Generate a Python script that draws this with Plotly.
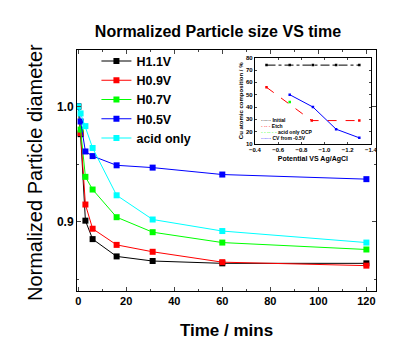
import plotly.graph_objects as go

# main chart data
time_min = [0, 1, 3, 6, 16, 31, 60, 120]
h11 = [1.0, 0.976, 0.901, 0.885, 0.870, 0.866, 0.864, 0.864]
h09 = [1.0, 0.977, 0.915, 0.894, 0.880, 0.874, 0.865, 0.862]
h07 = [1.0, 0.980, 0.939, 0.928, 0.904, 0.891, 0.882, 0.876]
h05 = [1.0, 0.987, 0.961, 0.957, 0.949, 0.947, 0.941, 0.937]
acid = [1.0, 0.994, 0.983, 0.964, 0.923, 0.902, 0.892, 0.882]
names = ["H1.1V", "H0.9V", "H0.7V", "H0.5V", "acid only"]
colors = ["#000000", "#ff0000", "#00ff00", "#0000ff", "#00ffff"]

# inset data
init_x = [-0.5, -0.7, -0.9, -1.1, -1.3]
init_y = [74, 74, 74, 74, 74]
etch_x = [-0.5, -0.89, -1.3]
etch_y = [56, 29, 29]
ocp_x = [-0.7]
ocp_y = [44]
cv_x = [-0.7, -0.9, -1.1, -1.3]
cv_y = [50, 40, 22, 15]

FONT = "Liberation Sans, Arial, sans-serif"

fig = go.Figure()
for name, ys, c in zip(names, [h11, h09, h07, h05, acid], colors):
    fig.add_trace(go.Scatter(x=time_min, y=ys, name=name, mode="lines+markers",
                             line=dict(color=c, width=1),
                             marker=dict(symbol="square", size=6, color=c)))

inset = [
    (init_x, init_y, "#000000", "dashdot"),
    (etch_x, etch_y, "#ff0000", "dash"),
    (ocp_x, ocp_y, "#00ff00", "solid"),
    (cv_x, cv_y, "#0000ff", "solid"),
]
for xs, ys, c, d in inset:
    fig.add_trace(go.Scatter(x=xs, y=ys, xaxis="x2", yaxis="y2", mode="lines+markers",
                             showlegend=False, line=dict(color=c, width=1, dash=d),
                             marker=dict(symbol="square", size=2.5, color=c)))

axis_common = dict(showline=True, linecolor="black", linewidth=1, mirror="allticks",
                   ticks="inside", showgrid=False, zeroline=False, automargin=False)

# page body adds an 8px offset, so margins are shifted by that much
fig.update_layout(
    width=420, height=362, autosize=False,
    margin=dict(l=69, r=52, t=42, b=79),
    paper_bgcolor="white", plot_bgcolor="white",
    font=dict(family=FONT, color="black"),
    title=dict(text="<b>Normalized Particle size VS time</b>", x=0.5, xanchor="center",
               y=0.934, yanchor="middle", font=dict(size=16), automargin=False),
    xaxis=dict(range=[-0.5, 124], dtick=20, tick0=0, ticklen=4,
               minor=dict(ticks="inside", ticklen=2, dtick=10),
               tickfont=dict(size=11, weight="bold"),
               title=dict(text="<b>Time / mins</b>", font=dict(size=17), standoff=17),
               **axis_common),
    yaxis=dict(range=[0.84, 1.049], dtick=0.1, tick0=0.9, tickformat=".1f", ticklen=4,
               minor=dict(ticks="inside", ticklen=2, dtick=0.05),
               tickfont=dict(size=12, weight="bold"),
               **axis_common),
    xaxis2=dict(domain=[0.595, 0.983], anchor="y2", range=[-0.4, -1.4], dtick=0.2,
                tickformat=".1f", ticklen=2, tickfont=dict(size=6, weight="bold"),
                title=dict(text="<b>Potential VS Ag/AgCl</b>", font=dict(size=7), standoff=3),
                **axis_common),
    yaxis2=dict(domain=[0.61, 0.968], anchor="x2", range=[10, 80], dtick=10, ticklen=2,
                tickfont=dict(size=6, weight="bold"),
                title=dict(text="<b>Cu atomic composition / %</b>", font=dict(size=6), standoff=1),
                **axis_common),
    legend=dict(x=0.065, y=1.015, xanchor="left", yanchor="top", bgcolor="rgba(0,0,0,0)",
                font=dict(size=12.5, weight="bold"), itemwidth=30, tracegroupgap=0),
    showlegend=True,
)

fig.add_annotation(xref="paper", yref="paper", x=-0.14, y=0.49, textangle=-90,
                   xanchor="center", yanchor="middle", showarrow=False,
                   text="Normalized Particle diameter", font=dict(size=20))

# inset legend as text
inset_labels = ["Initial", "Etch", "acid only OCP", "CV from -0.5V"]
inset_marks = ["-\u00b7-", "- -", "- - -", "-\u00b7-"]
inset_colors = ["#000000", "#ff0000", "#00ff00", "#0000ff"]
for i, (lab, mk, c) in enumerate(zip(inset_labels, inset_marks, inset_colors)):
    fig.add_annotation(xref="paper", yref="paper", x=0.61, y=0.71 - i * 0.025,
                       xanchor="left", yanchor="middle", showarrow=False,
                       text=f"<span style='color:{c}'>{mk}{mk}</span> <b>{lab}</b>",
                       font=dict(size=5))

fig.write_html("out.html")
